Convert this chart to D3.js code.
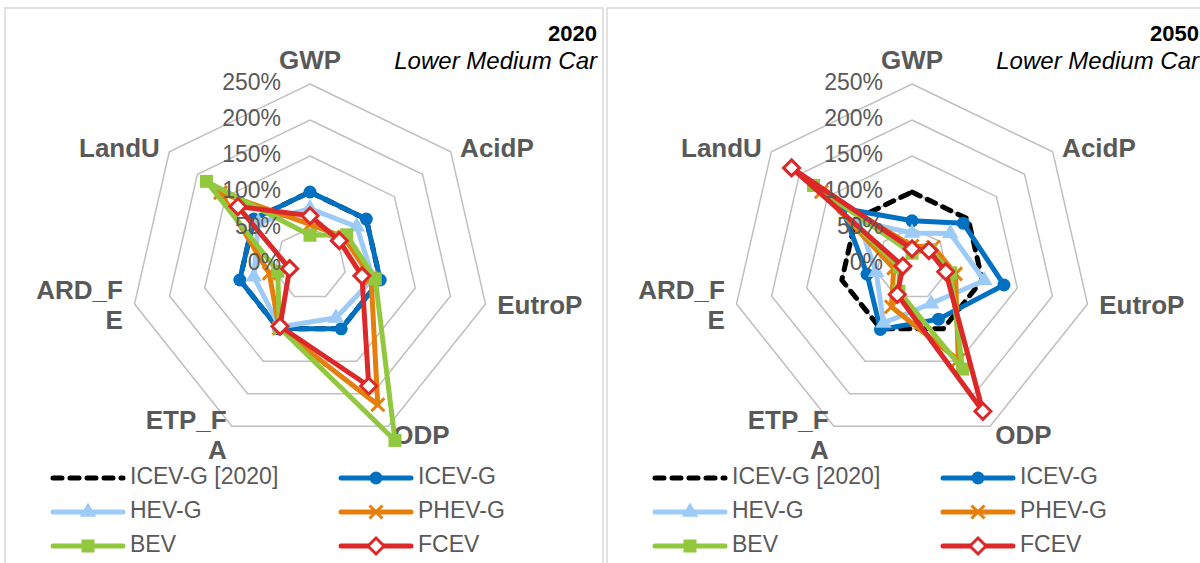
<!DOCTYPE html>
<html lang="en">
<head>
    <meta charset="UTF-8">
    <title>Radar charts 2020 / 2050 - Lower Medium Car</title>
    <style>
        body, html {
            margin: 0;
            padding: 0;
            width: 1200px;
            height: 563px;
            overflow: hidden;
            background: #ffffff;
            font-family: 'Liberation Sans', Arial, sans-serif;
        }
        .ring { fill: none; stroke: #bfbfbf; stroke-width: 1.5px; }
        .axis-label { fill: #595959; font-size: 26px; font-weight: bold; }
        .tick-label { fill: #595959; font-size: 23px; text-anchor: end; }
        .legend-text { fill: #595959; font-size: 23px; }
    </style>
</head>
<body>
<div id="chart"></div>
<script src="https://d3js.org/d3.v7.min.js"></script>
<script>
    // categories (clockwise from top)
    const axes = ["GWP", "AcidP", "EutroP", "ODP", "ETP_FA", "ARD_FE", "LandU"];
    const axisLabels = [["GWP"], ["AcidP"], ["EutroP"], ["ODP"], ["ETP_F", "A"], ["ARD_F", "E"], ["LandU"]];
    const ticks = [0, 50, 100, 150, 200, 250];
    const seriesNames = ["ICEV-G [2020]", "ICEV-G", "HEV-G", "PHEV-G", "BEV", "FCEV"];

    // values in % of ICEV-G 2020
    const ref2020 = [100, 100, 100, 100, 100, 100, 100];

    const icev2020 = [100, 100, 100, 100, 100, 100, 100];
    const hev2020  = [77, 83, 90, 83, 97, 80, 92];
    const phev2020 = [55, 60, 87, 217, 99, 58, 159];
    const bev2020  = [40, 65, 93, 272, 98, 46, 184];
    const fcev2020 = [67, 52, 74, 188, 96, 29, 128];

    const icev2050 = [60, 91, 131, 85, 101, 64, 124];
    const hev2050  = [43, 68, 103, 61, 91, 51, 95];
    const phev2050 = [25, 38, 62, 148, 66, 26, 161];
    const bev2050  = [15, 32, 55, 162, 42, 18, 175];
    const fcev2050 = [21, 30, 48, 227, 47, 13, 214];

    const styles = [
        {color: "#000000", marker: "none", dash: "9,8"},
        {color: "#0070c0", marker: "circle"},
        {color: "#9dcbf7", marker: "triangle"},
        {color: "#e57e0a", marker: "cross"},
        {color: "#92c83e", marker: "square"},
        {color: "#dc2828", marker: "diamond"}
    ];

    const panels = [
        {year: "2020", dx: 0, data: [ref2020, icev2020, hev2020, phev2020, bev2020, fcev2020]},
        {year: "2050", dx: 602, data: [ref2020, icev2050, hev2050, phev2050, bev2050, fcev2050]}
    ];

    const width = 1200, height = 563;
    const cx = 310, cy = 264, R = 180;

    const svg = d3.select("#chart").append("svg")
        .attr("width", width)
        .attr("height", height);

    const r = d3.scaleLinear().domain([0, 250]).range([0, R]);
    const angle = d3.scalePoint().domain(axes).range([0, 2 * Math.PI * 6 / 7]);

    const pt = (ax, v) => {
        const a = angle(ax);
        return [r(v) * Math.sin(a), -r(v) * Math.cos(a)];
    };

    function drawMarker(g, type, color, x, y) {
        if (type === "circle") {
            g.append("circle").attr("cx", x).attr("cy", y).attr("r", 6.5).attr("fill", color);
        } else if (type === "triangle") {
            g.append("path").attr("d", d3.symbol(d3.symbolTriangle, 120)())
                .attr("transform", `translate(${x},${y})`).attr("fill", color);
        } else if (type === "square") {
            g.append("rect").attr("x", x - 6.5).attr("y", y - 6.5)
                .attr("width", 13).attr("height", 13).attr("fill", color);
        } else if (type === "cross") {
            g.append("path").attr("d", "M-6.5,-6.5L6.5,6.5M-6.5,6.5L6.5,-6.5")
                .attr("transform", `translate(${x},${y})`)
                .attr("stroke", color).attr("stroke-width", 3).attr("fill", "none");
        } else if (type === "diamond") {
            g.append("path").attr("d", "M0,-8L8,0L0,8L-8,0Z")
                .attr("transform", `translate(${x},${y})`)
                .attr("stroke", color).attr("stroke-width", 3).attr("fill", "#ffffff");
        }
    }

    panels.forEach(p => {
        const panel = svg.append("g").attr("transform", `translate(${p.dx},0)`);

        // frame
        panel.append("rect")
            .attr("x", 5).attr("y", 8).attr("width", 598).attr("height", 600)
            .attr("fill", "none").attr("stroke", "#d9d9d9").attr("stroke-width", 1.5);

        // title
        panel.append("text").attr("x", 597).attr("y", 41)
            .attr("text-anchor", "end").attr("font-size", 22).attr("font-weight", "bold")
            .attr("fill", "#000").text(p.year);
        panel.append("text").attr("x", 597).attr("y", 69)
            .attr("text-anchor", "end").attr("font-size", 24).attr("font-style", "italic")
            .attr("fill", "#000").text("Lower Medium Car");

        const g = panel.append("g").attr("transform", `translate(${cx},${cy})`);

        // rings
        const ringLine = d3.line().curve(d3.curveLinearClosed);
        ticks.filter(t => t > 0).forEach(t => {
            g.append("path").attr("class", "ring")
                .attr("d", ringLine(axes.map(a => pt(a, t))));
        });

        // axis labels
        axes.forEach((a, i) => {
            const ang = angle(a);
            const x = (R + 12) * Math.sin(ang), y = -(R + 12) * Math.cos(ang);
            const anchor = x > 5 ? "start" : (x < -5 ? "end" : "middle");
            // top label sits a bit higher, upper side labels a bit lower
            const shift = anchor === "middle" ? -10 : (y < -50 ? 6 : 0);
            const lines = axisLabels[i];
            const t = g.append("text").attr("class", "axis-label")
                .attr("text-anchor", anchor)
                .attr("dominant-baseline", "middle");
            lines.forEach((l, j) => {
                t.append("tspan").attr("x", x)
                    .attr("y", y + (j - (lines.length - 1) / 2) * 30 + shift)
                    .text(l);
            });
        });

        // series
        const line = d3.line().curve(d3.curveLinearClosed);
        p.data.forEach((vals, si) => {
            const st = styles[si];
            const pts = axes.map((a, k) => pt(a, vals[k]));
            const sg = g.append("g");
            sg.append("path")
                .attr("d", line(pts))
                .attr("fill", "none")
                .attr("stroke", st.color)
                .attr("stroke-width", 5)
                .attr("stroke-linejoin", "round")
                .attr("stroke-linecap", st.dash ? "round" : "butt")
                .attr("stroke-dasharray", st.dash || null);
            pts.forEach(q => drawMarker(sg, st.marker, st.color, q[0], q[1]));
        });

        // tick labels
        ticks.forEach(t => {
            g.append("text").attr("class", "tick-label")
                .attr("x", -29).attr("y", -r(t))
                .attr("dominant-baseline", "middle")
                .text(t + "%");
        });

        // legend
        const legend = panel.append("g");
        seriesNames.forEach((name, i) => {
            const st = styles[i];
            const col = i % 2, row = Math.floor(i / 2);
            const x0 = col === 0 ? 53 : 341, y0 = 478 + row * 34;
            const lg = legend.append("g");
            lg.append("line").attr("x1", x0).attr("x2", x0 + 70)
                .attr("y1", y0).attr("y2", y0)
                .attr("stroke", st.color).attr("stroke-width", 5)
                .attr("stroke-linecap", "round")
                .attr("stroke-dasharray", st.dash || null);
            drawMarker(lg, st.marker, st.color, x0 + 35, y0);
            lg.append("text").attr("class", "legend-text")
                .attr("x", x0 + 77).attr("y", y0)
                .attr("dominant-baseline", "middle")
                .text(name);
        });
    });
</script>
</body>
</html>
